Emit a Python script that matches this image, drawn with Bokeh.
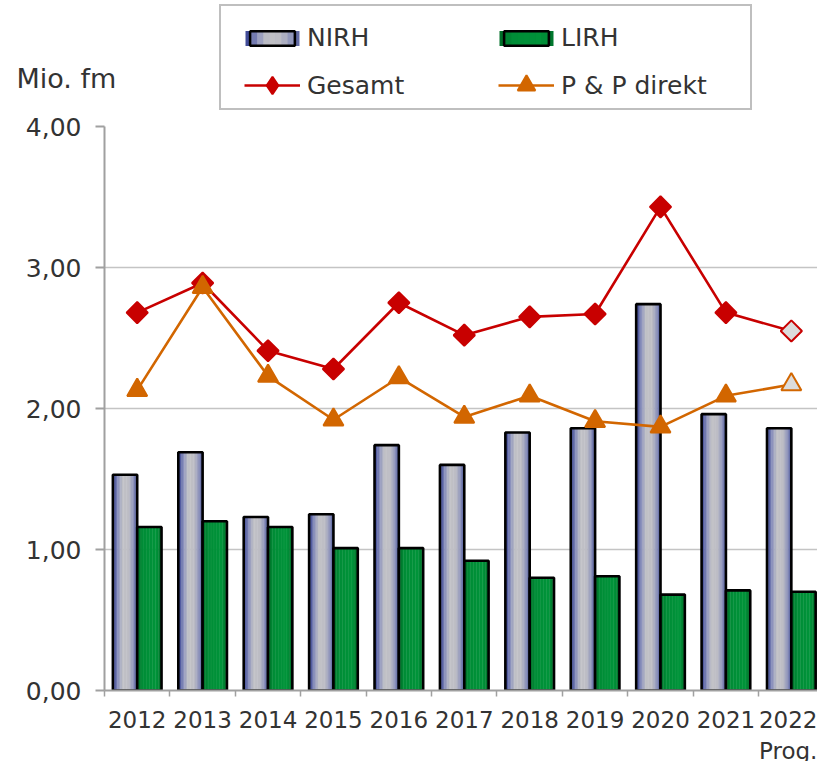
import numpy as np
from bokeh.plotting import figure
from bokeh.layouts import column, row
from bokeh.models import (ColumnDataSource, Range1d, FixedTicker, Legend,
                          LegendItem, Label)
from bokeh.transform import dodge
from bokeh.embed import file_html
from bokeh.resources import INLINE

# ---------------- data ----------------
years = ["2012", "2013", "2014", "2015", "2016", "2017",
         "2018", "2019", "2020", "2021", "2022"]
x_tick_labels = ["2012", "2013", "2014", "2015", "2016", "2017",
                 "2018", "2019", "2020", "2021", "2022\nProg."]
y_ticks = [0, 1, 2, 3, 4]
y_tick_labels = ["0,00", "1,00", "2,00", "3,00", "4,00"]
nirh = [1.53, 1.69, 1.23, 1.25, 1.74, 1.60, 1.83, 1.86, 2.74, 1.96, 1.86]
lirh = [1.16, 1.20, 1.16, 1.01, 1.01, 0.92, 0.80, 0.81, 0.68, 0.71, 0.70]
gesamt = [2.68, 2.89, 2.41, 2.28, 2.75, 2.52, 2.65, 2.67, 3.43, 2.68, 2.55]
pp_direkt = [2.13, 2.86, 2.23, 1.92, 2.22, 1.94, 2.09, 1.91, 1.87, 2.09, 2.17]
n_forecast = 1  # last year is a forecast ("Prog.")

# ---------------- style ----------------
FONT = "DejaVu Sans"
TEXT = "#333333"
RED = "#c80000"
ORANGE = "#d26600"
FORECAST_FILL = "#dcdcdc"
AXIS = "#a0a0a0"
GRID = "#c4c4c4"
HEADER_H = 111

n = len(years)
idx = list(range(n))
src = ColumnDataSource(dict(
    x=idx, nirh=nirh, lirh=lirh, gesamt=gesamt, pp=pp_direkt,
    g_fill=[RED] * (n - n_forecast) + [FORECAST_FILL] * n_forecast,
    p_fill=[ORANGE] * (n - n_forecast) + [FORECAST_FILL] * n_forecast,
))

p = figure(frame_width=713, frame_height=564, x_range=Range1d(-0.5, 10.4),
           y_range=Range1d(0, 4), output_backend="svg",
           toolbar_location=None, title=None,
           min_border_left=104, min_border_right=0,
           min_border_top=126 - HEADER_H, min_border_bottom=0)
p.outline_line_color = None
p.background_fill_color = "white"

# ---------------- bars with horizontal gradient ----------------
def interp(stops, t):
    for (t0, c0), (t1, c1) in zip(stops[:-1], stops[1:]):
        if t0 <= t <= t1:
            f = (t - t0) / (t1 - t0) if t1 > t0 else 0
            c = [int(round(a + (b - a) * f)) for a, b in zip(c0, c1)]
            return "#%02x%02x%02x" % tuple(c)
    return "#%02x%02x%02x" % stops[-1][1]

nirh_stops = [(0.0, (40, 52, 140)), (0.22, (140, 146, 188)),
              (0.42, (194, 194, 198)), (0.66, (188, 188, 196)),
              (0.86, (140, 146, 186)), (1.0, (70, 82, 152))]
lirh_stops = [(0.0, (0, 100, 36)), (0.2, (0, 140, 54)),
              (0.8, (0, 148, 58)), (1.0, (0, 108, 40))]

W = 0.372
N = 16
for field, stops, off in [("nirh", nirh_stops, -W / 2), ("lirh", lirh_stops, W / 2)]:
    for k in range(N):
        t = (k + 0.5) / N
        c_off = off - W / 2 + (k + 0.5) * W / N
        p.vbar(x=dodge("x", c_off), top=field, bottom=0, width=W / N * 1.25,
               source=src, fill_color=interp(stops, t), line_color=None)
    p.vbar(x=dodge("x", off), top=field, bottom=0, width=W, source=src,
           fill_color=None, line_color="black", line_width=2.6)

# ---------------- lines ----------------
G_LINE = dict(line_color=RED, line_width=2.6)
G_MARK = dict(marker="square", angle=np.pi / 4, size=15, line_color=RED, line_width=2)
P_LINE = dict(line_color=ORANGE, line_width=2.6)
P_MARK = dict(marker="triangle", size=20, line_color=ORANGE, line_width=2)

p.line("x", "gesamt", source=src, **G_LINE)
p.scatter("x", "gesamt", source=src, fill_color="g_fill", **G_MARK)
p.line("x", "pp", source=src, **P_LINE)
p.scatter("x", "pp", source=src, fill_color="p_fill", **P_MARK)

# ---------------- axes ----------------
p.yaxis.ticker = FixedTicker(ticks=y_ticks)
p.yaxis.major_label_overrides = dict(zip(y_ticks, y_tick_labels))
p.yaxis.axis_line_color = AXIS
p.yaxis.axis_line_width = 2
p.yaxis.major_tick_line_color = AXIS
p.yaxis.major_tick_line_width = 2
p.yaxis.major_tick_out = 9
p.yaxis.major_tick_in = 0
p.yaxis.minor_tick_out = 0
p.yaxis.minor_tick_in = 0
p.yaxis.major_label_standoff = 14
p.yaxis.major_label_text_font = FONT
p.yaxis.major_label_text_font_size = "25px"
p.yaxis.major_label_text_color = TEXT

p.xaxis.ticker = FixedTicker(ticks=idx, minor_ticks=[i - 0.5 for i in range(n + 1)])
p.xaxis.major_label_overrides = dict(zip(idx, x_tick_labels))
p.xaxis.axis_line_color = AXIS
p.xaxis.axis_line_width = 2
p.xaxis.major_tick_out = 0
p.xaxis.major_tick_in = 0
p.xaxis.minor_tick_out = 6
p.xaxis.minor_tick_in = 0
p.xaxis.minor_tick_line_color = AXIS
p.xaxis.minor_tick_line_width = 1.5
p.xaxis.major_label_standoff = 10
p.xaxis.major_label_text_font = FONT
p.xaxis.major_label_text_font_size = "23px"
p.xaxis.major_label_text_color = TEXT

p.xgrid.visible = False
p.ygrid.ticker = FixedTicker(ticks=[1, 2, 3])
p.ygrid.grid_line_color = GRID
p.ygrid.grid_line_width = 1.5

# ---------------- header: unit label (left) + legend (right) ----------------
def blank_fig(width):
    f = figure(width=width, height=HEADER_H, x_range=Range1d(0, 1),
               y_range=Range1d(0, 1), output_backend="svg",
               toolbar_location=None, title=None,
               x_axis_type=None, y_axis_type=None, min_border=0)
    f.outline_line_color = None
    f.xgrid.visible = False
    f.ygrid.visible = False
    return f

h1 = blank_fig(200)
h1.add_layout(Label(x=16, y=HEADER_H - 78, x_units="screen", y_units="screen",
                    text="Mio. fm", text_font=FONT, text_font_size="27px",
                    text_color=TEXT, text_baseline="alphabetic"))

h2 = blank_fig(617)
# legend sample renderers: a single point hidden behind the legend box
dummy = ColumnDataSource(dict(x=[0.3], y=[0.5], top=[0.5], bottom=[0.5]))

def swatch(stops, base):
    rs = [h2.vbar(x="x", top="top", bottom="bottom", width=0.001, source=dummy,
                  fill_color=base, line_color=None)]
    for k in range(9):
        rs.append(h2.line(x="x", y="y", source=dummy, line_width=15,
                          line_color=interp(stops, (k + 0.5) / 9),
                          line_dash="6 200", line_dash_offset=-(1 + 6 * k),
                          line_cap="butt"))
    rs.append(h2.vbar(x="x", top="top", bottom="bottom", width=0.001, source=dummy,
                      fill_color=None, line_color="black", line_width=2.5))
    return rs

nirh_sw = swatch(nirh_stops, "#b4b6c8")
lirh_sw = swatch(lirh_stops, "#008c36")
d_blank = h2.line(x="x", y="y", source=dummy, line_alpha=0)
d_gl = h2.line(x="x", y="y", source=dummy, **G_LINE)
d_gm = h2.scatter(x="x", y="y", source=dummy, marker="diamond",
                  fill_color=RED, line_color=RED, line_width=2)
d_pl = h2.line(x="x", y="y", source=dummy, **P_LINE)
d_pm = h2.scatter(x="x", y="y", source=dummy, fill_color=ORANGE, **P_MARK)

common = dict(label_text_font=FONT, label_text_font_size="25px",
              label_text_color=TEXT, glyph_width=56, label_standoff=7,
              label_width=172, spacing=19, margin=0)

leg_a = Legend(items=[LegendItem(label="NIRH", renderers=nirh_sw),
                      LegendItem(label="LIRH", renderers=lirh_sw),
                      LegendItem(label=" ", renderers=[d_blank]),
                      LegendItem(label=" ", renderers=[d_blank])],
               orientation="horizontal", ncols=2, glyph_height=18,
               label_height=20, padding=17,
               title=" ", title_location="left", title_text_font_size="1px",
               title_standoff=5,
               border_line_color="#808080", border_line_width=2.5,
               background_fill_color="white", background_fill_alpha=1,
               location=(19, HEADER_H - 110), **common)
leg_b = Legend(items=[LegendItem(label="Gesamt", renderers=[d_gl, d_gm]),
                      LegendItem(label="P & P direkt", renderers=[d_pl, d_pm])],
               orientation="horizontal", glyph_height=44, label_height=20,
               padding=0, border_line_alpha=0, background_fill_alpha=0,
               location=(44, HEADER_H - 107), **common)
h2.add_layout(leg_a)
h2.add_layout(leg_b)

layout = column(row(h1, h2, spacing=0), p, spacing=0)
open("out.html", "w").write(file_html(layout, INLINE))
